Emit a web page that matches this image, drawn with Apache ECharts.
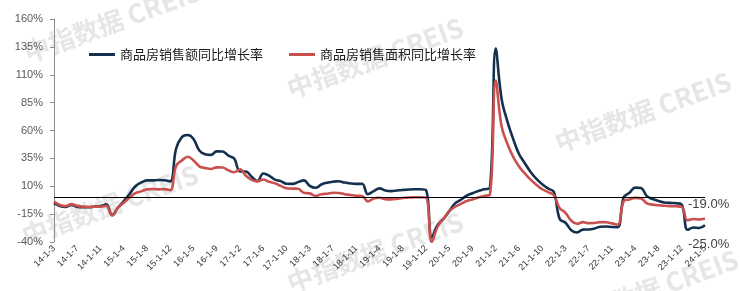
<!DOCTYPE html>
<html>
<head>
<meta charset="utf-8">
<script src="https://cdn.jsdelivr.net/npm/echarts@6/dist/echarts.min.js"></script>
<style>
html,body{margin:0;padding:0;background:#fff;}
#chart{width:740px;height:291px;}
</style>
</head>
<body>
<div id="chart"></div>
<script>
// Category labels: cumulative periods (1-2 ... 1-12), starting 14-1-3, ending 24-1-5
const years = ['14','15','16','17','18','19','20','21','22','23','24'];
const periods = ['1-2','1-3','1-4','1-5','1-6','1-7','1-8','1-9','1-10','1-11','1-12'];
const categories = [];
years.forEach(function (y, yi) {
  periods.forEach(function (p, pi) {
    if (yi === 0 && pi < 1) return;          // series starts at 14-1-3
    if (y === '24' && pi > 3) return;         // series ends at 24-1-5
    categories.push(y + '-' + p);
  });
});

const seriesNames = ['商品房销售额同比增长率', '商品房销售面积同比增长率'];

// 商品房销售额同比增长率 (%)
const salesAmountYoY = [
  -5.2, -7.7, -8.5, -6.7, -8.6, -8.9, -8.9, -8.2, -7.8, -6.3,
  -15.8, -9.3, -3.3, 3.0, 10.0, 13.4, 15.3, 15.3, 15.6, 15.4, 14.4,
  43.6, 54.1, 55.9, 52.4, 42.1, 38.7, 38.1, 41.3, 41.2, 37.5, 34.8,
  23.3, 23.2, 18.6, 14.6, 21.5, 19.6, 15.9, 14.6, 12.2, 12.1, 13.7,
  15.3, 10.4, 8.6, 11.6, 13.2, 14.1, 14.5, 13.3, 12.5, 12.1, 12.2,
  2.8, 5.6, 8.1, 6.1, 5.6, 6.2, 6.7, 7.1, 7.3, 7.3, 6.5,
  -35.9, -24.7, -19.3, -12.3, -5.4, -2.1, 1.6, 3.7, 5.8, 7.2, 8.7,
  133.4, 88.5, 68.2, 52.4, 38.9, 30.7, 22.8, 16.6, 11.8, 8.0, 4.8,
  -19.3, -22.7, -29.5, -31.5, -28.9, -28.8, -27.9, -26.3, -26.1, -26.6, -26.7,
  -0.1, 4.1, 8.8, 8.4, 1.1, -1.5, -3.2, -4.6, -4.9, -5.2, -6.5,
  -29.0, -27.0, -27.4, -25.0
];

// 商品房销售面积同比增长率 (%)
const salesAreaYoY = [
  -3.8, -6.8, -7.8, -6.0, -7.6, -8.3, -8.6, -8.3, -8.2, -7.6,
  -16.3, -9.2, -4.8, -0.2, 3.9, 5.4, 7.2, 7.5, 7.2, 7.4, 6.5,
  28.2, 33.1, 36.5, 33.2, 27.9, 26.4, 25.5, 26.9, 26.8, 24.3, 22.5,
  25.1, 19.5, 15.7, 14.3, 16.1, 14.0, 12.7, 10.3, 8.2, 7.9, 7.7,
  4.1, 3.6, 1.3, 2.9, 3.3, 4.2, 4.0, 2.9, 2.2, 1.4, 1.3,
  -3.6, -0.9, -0.3, -1.6, -1.8, -1.3, -0.6, -0.1, 0.1, 0.2, -0.1,
  -39.9, -26.3, -19.3, -12.3, -8.4, -5.8, -3.3, -1.8, 0.0, 1.3, 2.6,
  104.9, 63.8, 48.1, 36.3, 27.7, 21.5, 15.9, 11.3, 7.3, 4.8, 1.9,
  -9.6, -13.8, -20.9, -23.6, -22.2, -23.1, -23.0, -22.2, -22.3, -23.3, -24.3,
  -3.6, -1.8, -0.4, -0.9, -5.3, -6.5, -7.1, -7.5, -7.8, -8.0, -8.5,
  -20.5, -19.4, -19.8, -19.0
];

const yMin = -40, yMax = 160, yStep = 25;
const watermarkText = '中指数据 CREIS';

const chart = echarts.init(document.getElementById('chart'), null, {renderer: 'canvas'});

const wmPos = [[112, 22], [375, 58], [643, 112], [110, 205], [375, 252], [650, 290]];
const graphics = wmPos.map(function (p) {
  return {
    type: 'text', x: p[0], y: p[1], rotation: 20 * Math.PI / 180, z: 0, silent: true,
    style: {
      text: watermarkText, fill: '#e6e6e6', align: 'center', verticalAlign: 'middle',
      font: 'bold 26px "Noto Sans CJK SC", "Liberation Sans", sans-serif'
    }
  };
});

const endFmt = function (p) { return p.value.toFixed(1) + '%'; };

chart.setOption({
  animation: false,
  backgroundColor: '#ffffff',
  textStyle: {fontFamily: '"Liberation Sans", Arial, "Noto Sans CJK SC", sans-serif'},
  graphic: graphics,
  grid: {left: 54, right: 35, top: 19, bottom: 49, containLabel: false},
  legend: {
    left: 89, top: 48, padding: 0, itemWidth: 26, itemHeight: 3, itemGap: 26, icon: 'rect',
    textStyle: {fontSize: 13, color: '#1a1a1a', fontFamily: '"Noto Sans CJK SC", sans-serif'},
    data: seriesNames
  },
  xAxis: {
    type: 'category', data: categories, boundaryGap: false,
    axisLine: {show: false}, axisTick: {show: false}, splitLine: {show: false},
    axisLabel: {interval: 3, rotate: 45, fontSize: 9, color: '#333', margin: 5}
  },
  yAxis: {
    type: 'value', min: yMin, max: yMax, interval: yStep,
    axisLine: {show: true, lineStyle: {color: '#8c8c8c', width: 1}},
    axisTick: {show: true, length: 4, lineStyle: {color: '#8c8c8c'}},
    splitLine: {show: false},
    axisLabel: {formatter: '{value}%', fontSize: 11, color: '#595959', margin: 11}
  },
  series: [
    {
      name: seriesNames[0], type: 'line', data: salesAmountYoY, smooth: 0.4,
      showSymbol: false, symbol: 'none', z: 3,
      lineStyle: {color: '#14304F', width: 2.6}, itemStyle: {color: '#14304F'},
      endLabel: {show: true, formatter: endFmt, fontSize: 13, color: '#404040', offset: [-25, 19]},
      markLine: {
        silent: true, symbol: 'none', animation: false,
        label: {show: false},
        lineStyle: {color: '#000', width: 1, type: 'solid'},
        data: [{yAxis: 0}]
      }
    },
    {
      name: seriesNames[1], type: 'line', data: salesAreaYoY, smooth: 0.4,
      showSymbol: false, symbol: 'none', z: 4,
      lineStyle: {color: '#C9504D', width: 2.6}, itemStyle: {color: '#C9504D'},
      endLabel: {show: true, formatter: endFmt, fontSize: 13, color: '#404040', offset: [-25, -14]}
    }
  ]
});
</script>
</body>
</html>
